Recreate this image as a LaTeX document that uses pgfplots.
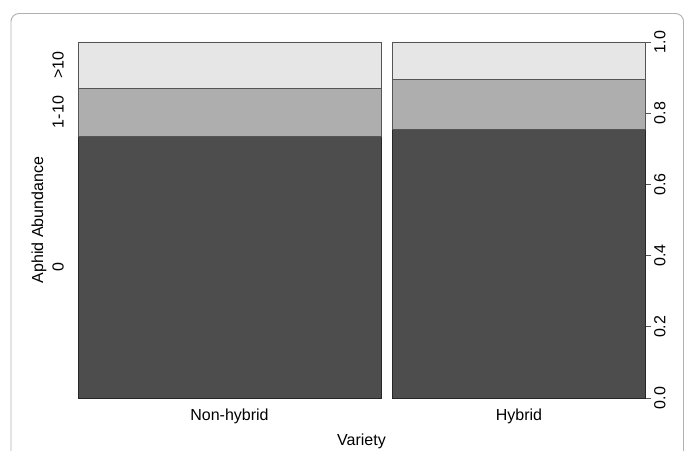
\documentclass[border=0pt]{standalone}
\usepackage{pgfplots}
\pgfplotsset{compat=1.18}
\usepackage{fontspec}
\setmainfont{Liberation Sans}
\definecolor{cdark}{HTML}{4D4D4D}
\definecolor{cmid}{HTML}{AEAEAE}
\definecolor{clight}{HTML}{E6E6E6}
\definecolor{cframe}{HTML}{B0B0B0}
\definecolor{cedge}{HTML}{555555}
\begin{document}
\begin{tikzpicture}[x=1pt,y=1pt]
\clip (0,0) rectangle (685,450);
\fill[white] (0,0) rectangle (685,450);
\draw[cframe, line width=0.9pt, rounded corners=8pt] (11,-30) rectangle (683.5,436.5);
\begin{axis}[
  at={(78pt,52pt)}, anchor=south west,
  scale only axis, width=567pt, height=356pt,
  xmin=0, xmax=1.02, ymin=0, ymax=1,
  axis x line=none,
  axis y line*=right,
  y axis line style={draw=cedge, line width=0.6pt, -},
  ytick={0,0.2,0.4,0.6,0.8,1.0},
  yticklabels={0.0,0.2,0.4,0.6,0.8,1.0},
  tick align=outside,
  major tick length=6pt,
  every tick/.style={draw=cedge, line width=0.6pt},
  yticklabel style={rotate=90, anchor=north, font=\fontsize{16}{16}\selectfont, inner sep=3pt},
  /pgf/number format/assume math mode=true,
  clip=false,
]
% Non-hybrid (left bar)
\addplot[fill=cdark, draw=black!85, line width=0.7pt] coordinates {(0,0) (0.545,0) (0.545,0.734) (0,0.734) (0,0)};
\addplot[fill=cmid, draw=cedge, line width=0.7pt] coordinates {(0,0.734) (0.545,0.734) (0.545,0.871) (0,0.871) (0,0.734)};
\addplot[fill=clight, draw=cedge, line width=0.7pt] coordinates {(0,0.871) (0.545,0.871) (0.545,1) (0,1) (0,0.871)};
% Hybrid (right bar)
\addplot[fill=cdark, draw=black!85, line width=0.7pt] coordinates {(0.5652,0) (1.02,0) (1.02,0.756) (0.5652,0.756) (0.5652,0)};
\addplot[fill=cmid, draw=cedge, line width=0.7pt] coordinates {(0.5652,0.756) (1.02,0.756) (1.02,0.894) (0.5652,0.894) (0.5652,0.756)};
\addplot[fill=clight, draw=cedge, line width=0.7pt] coordinates {(0.5652,0.894) (1.02,0.894) (1.02,1) (0.5652,1) (0.5652,0.894)};
\end{axis}
\begin{scope}[every node/.style={font=\fontsize{16}{16}\selectfont}]
\node[rotate=90] at (58,183) {0};
\node[rotate=90] at (58,338) {1-10};
\node[rotate=90] at (58,385) {>10};
\node[rotate=90] at (39,230) {Aphid Abundance};
\node at (229.5,34) {Non-hybrid};
\node at (519,34) {Hybrid};
\node at (361.5,9) {Variety};
\end{scope}
\end{tikzpicture}
\end{document}
